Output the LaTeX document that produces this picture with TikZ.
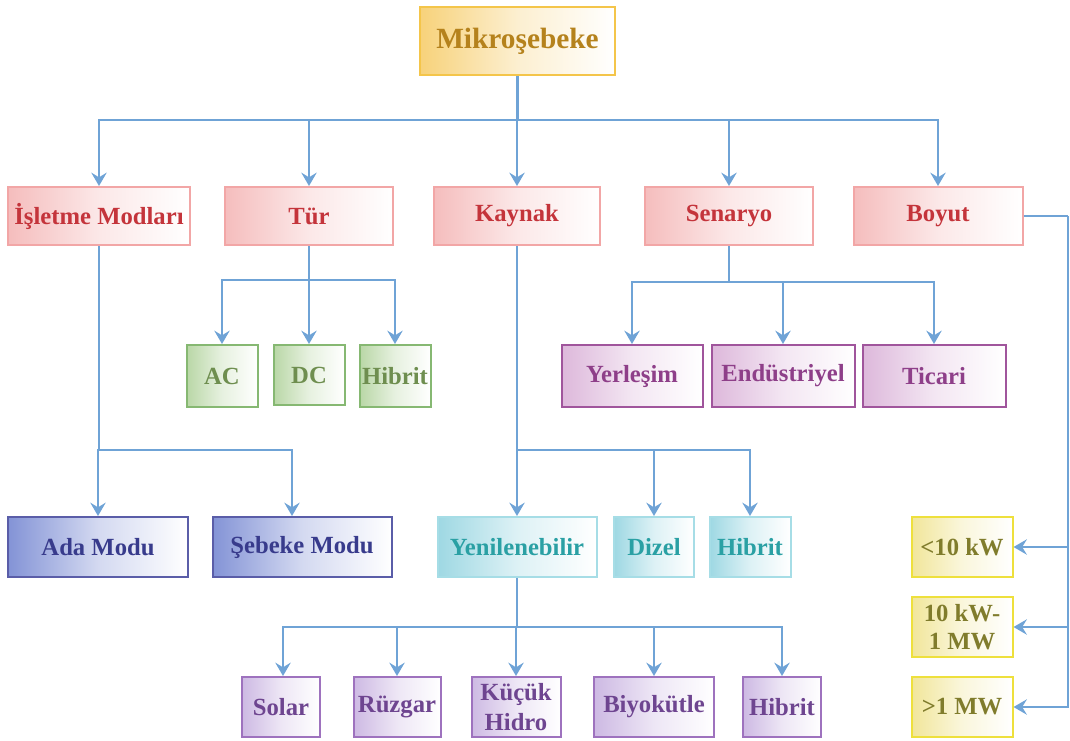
\documentclass[tikz,border=0pt]{standalone}
\usepackage{fontspec}
\setmainfont{Liberation Serif}
\usetikzlibrary{arrows.meta}

\definecolor{goldB}{HTML}{F4C54A}\definecolor{goldF}{HTML}{F7D27A}\definecolor{goldT}{HTML}{B5821C}
\definecolor{redB}{HTML}{F2A6A6}\definecolor{redF}{HTML}{F5BDBD}\definecolor{redT}{HTML}{C4343B}
\definecolor{grnB}{HTML}{86B872}\definecolor{grnF}{HTML}{B9D7A6}\definecolor{grnT}{HTML}{6E8E4F}
\definecolor{bluB}{HTML}{5A5DA8}\definecolor{bluF}{HTML}{8393D6}\definecolor{bluT}{HTML}{383B8C}
\definecolor{cyaB}{HTML}{A6DDE6}\definecolor{cyaF}{HTML}{9ED8E3}\definecolor{cyaT}{HTML}{2AA0A4}
\definecolor{magB}{HTML}{A0559C}\definecolor{magF}{HTML}{DDB8DB}\definecolor{magT}{HTML}{8E3F89}
\definecolor{vioB}{HTML}{9E72BE}\definecolor{vioF}{HTML}{CDB9E3}\definecolor{vioT}{HTML}{6E4590}
\definecolor{yelB}{HTML}{EEE03C}\definecolor{yelF}{HTML}{F1E69A}\definecolor{yelT}{HTML}{807C2C}
\definecolor{wire}{HTML}{6FA3D6}

\tikzset{
  box/.style n args={3}{draw=#1, line width=1.5pt, left color=#2, right color=white,
    middle color=#2!35!white, text=#3, font=\fontsize{18.5}{21}\selectfont\bfseries,
    inner sep=0pt, align=center, rectangle},
  bsz/.style n args={2}{minimum width=#1*0.75pt, minimum height=#2*0.75pt},
  gold/.style={box={goldB}{goldF}{goldT}, font=\fontsize{22}{26}\selectfont\bfseries},
  redbox/.style={box={redB}{redF}{redT}},
  grnbox/.style={box={grnB}{grnF}{grnT}},
  blubox/.style={box={bluB}{bluF}{bluT}},
  cyabox/.style={box={cyaB}{cyaF}{cyaT}},
  magbox/.style={box={magB}{magF}{magT}},
  viobox/.style={box={vioB}{vioF}{vioT}},
  yelbox/.style={box={yelB}{yelF}{yelT}},
  conn/.style={draw=wire, line width=1.6pt},
  arr/.style={conn, -{Stealth[length=10pt,width=11.5pt,inset=3.5pt]}},
}

\begin{document}
\begin{tikzpicture}[x=0.75pt, y=-0.75pt]
\useasboundingbox (0,0) rectangle (1070,740);

% root
\node[gold, bsz={195}{68}] (mk) at (517.5,41) {Mikroşebeke};

% first level
\node[redbox, bsz={182}{58}] (op) at (99,216) {İşletme Modları};
\node[redbox, bsz={168}{58}] (tr) at (309,216) {Tür};
\node[redbox, bsz={166}{58}] (ky) at (517,216) {Kaynak};
\node[redbox, bsz={168}{58}] (sn) at (729,216) {Senaryo};
\node[redbox, bsz={169}{58}] (by) at (938,216) {Boyut};

% type
\node[grnbox, bsz={71}{62}] (ac) at (222,376) {AC};
\node[grnbox, bsz={71}{60}] (dc) at (309,375) {DC};
\node[grnbox, bsz={71}{62}] (th) at (395,376) {Hibrit};

% scenario
\node[magbox, bsz={141}{62}] (ye) at (632,376) {Yerleşim};
\node[magbox, bsz={143}{62}] (en) at (783,376) {Endüstriyel};
\node[magbox, bsz={143}{62}] (ti) at (934,376) {Ticari};

% operating modes
\node[blubox, bsz={180}{60}] (ad) at (98,547) {Ada Modu};
\node[blubox, bsz={179}{60}] (sm) at (302,547) {Şebeke Modu};

% source
\node[cyabox, bsz={159}{60}] (yn) at (517,547) {Yenilenebilir};
\node[cyabox, bsz={80}{60}] (dz) at (654,547) {Dizel};
\node[cyabox, bsz={81}{60}] (kh) at (750,547) {Hibrit};

% renewable
\node[viobox, bsz={78}{60}] (so) at (281,707) {Solar};
\node[viobox, bsz={87}{60}] (rz) at (397,707) {Rüzgar};
\node[viobox, bsz={89}{60}, font=\fontsize{18.5}{22}\selectfont\bfseries] (kc) at (516,707) {Küçük\\Hidro};
\node[viobox, bsz={120}{60}] (bk) at (654,707) {Biyokütle};
\node[viobox, bsz={78}{60}] (rh) at (782,707) {Hibrit};

% size
\node[yelbox, bsz={101}{60}] (s1) at (962,547) {<10 kW};
\node[yelbox, bsz={101}{60}, font=\fontsize{18.5}{21}\selectfont\bfseries] (s2) at (962,627) {10 kW-\\1 MW};
\node[yelbox, bsz={101}{60}] (s3) at (962,707) {>1 MW};

% branch points
\coordinate (b0) at (517.5,120);
\coordinate (b1) at (309,280);
\coordinate (b2) at (729,282);
\coordinate (b3) at (99,450);
\coordinate (b4) at (517,450);
\coordinate (b5) at (517,627);
\coordinate (b6) at (1068,216);

% connectors
\draw[conn] (mk.south) -- (b0);
\foreach \c in {op,tr,ky,sn,by} \draw[arr] (b0) -| (\c.north);

\draw[conn] (tr.south) -- (b1);
\foreach \c in {ac,dc,th} \draw[arr] (b1) -| (\c.north);

\draw[conn] (sn.south) -- (b2);
\foreach \c in {ye,en,ti} \draw[arr] (b2) -| (\c.north);

\draw[conn] (op.south) -- (b3);
\draw[arr] (b3) -| (ad.north);
\draw[arr] (b3) -| ([xshift=-7.5pt]sm.north);

\draw[conn] (ky.south) -- (b4);
\foreach \c in {yn,dz,kh} \draw[arr] (b4) -| (\c.north);

\draw[conn] (yn.south) -- (b5);
\draw[arr] (b5) -| ([xshift=1.5pt]so.north);
\foreach \c in {rz,kc,bk,rh} \draw[arr] (b5) -| (\c.north);

\draw[conn] (by.east) -- (b6);
\foreach \c in {s1,s2,s3} \draw[arr] (b6) |- (\c.east);
\end{tikzpicture}
\end{document}
